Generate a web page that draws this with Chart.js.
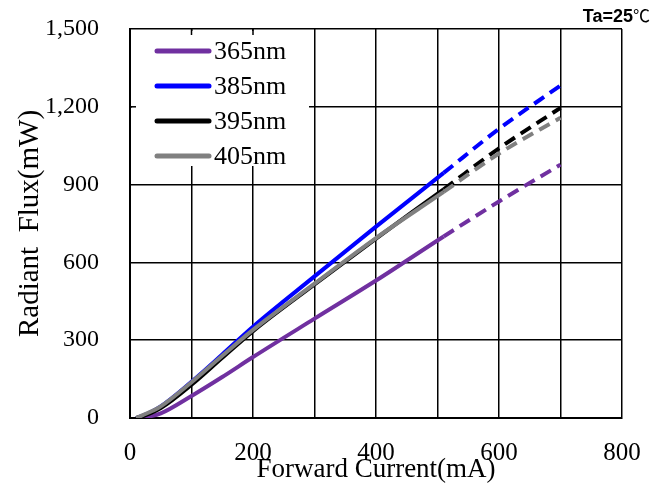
<!DOCTYPE html>
<html>
<head>
<meta charset="utf-8">
<script src="https://cdn.jsdelivr.net/npm/chart.js@4.4.0/dist/chart.umd.min.js"></script>
<style>
body{margin:0;background:#fff}
#wrap{position:relative;width:655px;height:488px}
#ta{position:absolute;right:5px;top:2px;font:bold 18px "Liberation Sans",Arial,sans-serif;color:#000}
#ta span{font-weight:normal;font-family:"Noto Sans CJK SC",sans-serif;font-size:17px}
</style>
</head>
<body>
<div id="wrap">
<canvas id="myChart" width="655" height="488"></canvas>
<div id="ta">Ta=25<span>℃</span></div>
</div>
<script>
// forward current (mA), solid part ends at 510, dashed after
const current = [10, 20, 50, 100, 150, 200, 300, 400, 510, 600, 700]
const nm365 = [null, 0, 18, 85, 158, 235, 383, 530, 700, 835, 977]
const nm385 = [0, 8, 45, 140, 245, 352, 546, 738, 945, 1115, 1282]
const nm395 = [0, 6, 38, 128, 232, 335, 515, 692, 882, 1040, 1196]
const nm405 = [0, 10, 45, 138, 240, 340, 518, 694, 872, 1020, 1158]
const xTicks = [0, 200, 400, 600, 800]
const yTicks = [0, 300, 600, 900, 1200, 1500]

const names = ['365nm', '385nm', '395nm', '405nm']
const colors = ['#7030A0', '#0000FF', '#000000', '#808080']
const serif = '"Liberation Serif","Times New Roman",serif'

function pts(arr){
    var out = []
    for(let i=0;i<current.length;i++){
        if(arr[i] !== null) out.push({x:current[i], y:arr[i]})
    }
    return out
}

const series = [nm365, nm385, nm395, nm405]
const datasets = series.map((s, i) => ({
    label: names[i],
    data: pts(s),
    borderColor: colors[i],
    backgroundColor: colors[i],
    borderWidth: 4,
    pointRadius: 0,
    cubicInterpolationMode: 'monotone',
    borderCapStyle: 'butt',
    segment: {
        borderDash: ctx => ctx.p0.parsed.x >= 510 ? [12, 7] : undefined
    }
}))
// keep 395 on top of 405
datasets.reverse()

const legendBox = {
    id: 'legendBox',
    beforeDatasetsDraw(chart){
        const c = chart.ctx
        const xs = chart.scales.x, ys = chart.scales.y
        const top = chart.chartArea.top, left = chart.chartArea.left
        c.save()
        c.fillStyle = '#fff'
        c.fillRect(left + 2, top + 2, 177, 135)
        // small inward ticks on the border
        c.strokeStyle = '#000'
        c.lineWidth = 1.5
        ;[100, 200].forEach(v => {
            const px = xs.getPixelForValue(v)
            c.beginPath(); c.moveTo(px, top); c.lineTo(px, top + 6); c.stroke()
        })
        const py = ys.getPixelForValue(1200)
        c.beginPath(); c.moveTo(left, py); c.lineTo(left + 6, py); c.stroke()
        c.font = '26px ' + serif
        c.textBaseline = 'middle'
        for(let i=0;i<names.length;i++){
            const y = top + 22 + i*35
            c.strokeStyle = colors[i]
            c.lineWidth = 5
            c.lineCap = 'round'
            c.beginPath(); c.moveTo(157, y); c.lineTo(209, y); c.stroke()
            c.fillStyle = '#000'
            c.fillText(names[i], 214, y + 1)
        }
        c.restore()
    }
}

const ctx = document.getElementById('myChart').getContext('2d')
const myChart = new Chart(ctx, {
    type: 'line',
    data: {datasets: datasets},
    plugins: [legendBox],
    options: {
        responsive: false,
        animation: false,
        devicePixelRatio: 1,
        layout: {padding: {left: 0, top: 29, right: 33, bottom: 0}},
        plugins: {legend: {display: false}, tooltip: {enabled: false}},
        scales: {
            x: {
                type: 'linear',
                min: 0, max: 800,
                afterFit: s => { s.height = 70; s.paddingLeft = 0; s.paddingRight = 0 },
                ticks: {
                    stepSize: 100,
                    padding: 20,
                    color: '#000',
                    font: {family: serif, size: 25},
                    callback: v => xTicks.includes(v) ? String(v) : ''
                },
                grid: {color: '#000', lineWidth: 1.5, drawTicks: false},
                border: {color: '#000', width: 2},
                title: {
                    display: true,
                    text: 'Forward Current(mA)',
                    color: '#000',
                    font: {family: serif, size: 27},
                    padding: {top: 0, bottom: 2}
                }
            },
            y: {
                min: 0, max: 1500,
                afterFit: s => { s.width = 130; s.paddingTop = 0; s.paddingBottom = 0 },
                ticks: {
                    stepSize: 300,
                    padding: 31,
                    color: '#000',
                    font: {family: serif, size: 24},
                    callback: v => yTicks.includes(v) ? v.toLocaleString('en-US') : ''
                },
                grid: {color: '#000', lineWidth: 1.5, drawTicks: false},
                border: {color: '#000', width: 2},
                title: {
                    display: true,
                    text: 'Radiant  Flux(mW)',
                    color: '#000',
                    font: {family: serif, size: 29},
                    padding: {top: 13, bottom: 0}
                }
            }
        }
    }
})
</script>
</body>
</html>
